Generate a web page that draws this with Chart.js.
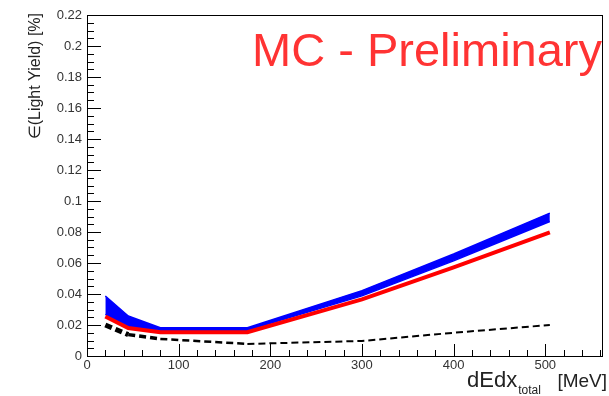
<!DOCTYPE html>
<html>
<head>
<meta charset="utf-8">
<script src="https://cdn.jsdelivr.net/npm/chart.js@4/dist/chart.umd.min.js"></script>
<style>
  html, body { margin: 0; padding: 0; background: #fff; }
  #wrap { width: 609px; height: 396px; }
</style>
</head>
<body>
<div id="wrap"><canvas id="c" width="609" height="396"></canvas></div>
<script>
// dEdx bins [MeV]
const xVals = [20, 45, 80, 175, 300, 400, 505];

// blue band (upper / lower edge)
const blueUpper = [0.0387, 0.0258, 0.0183, 0.0183, 0.0422, 0.0658, 0.0922];
const blueLower = [0.0268, 0.0190, 0.0166, 0.0166, 0.0388, 0.0614, 0.0868];

// red line
const redLine = [0.0255, 0.0180, 0.0153, 0.0153, 0.0365, 0.0572, 0.0797];

// black dashed line
const blackLine = [0.0200, 0.0138, 0.0110, 0.0078, 0.0097, 0.0150, 0.0200];

// tick labels
const xTicks = [0, 100, 200, 300, 400, 500];
const yTicks = [0, 0.02, 0.04, 0.06, 0.08, 0.1, 0.12, 0.14, 0.16, 0.18, 0.2, 0.22];

const X_MAX = 563;
const Y_MAX = 0.22;
const FONT = "'Liberation Sans', Arial, sans-serif";

const pts = (ys) => xVals.map((x, i) => ({ x: x, y: ys[i] }));

// ROOT風の内向き目盛り + 枠 + テキスト
const rootFrame = {
    id: 'rootFrame',
    afterDraw(chart) {
        const { ctx, chartArea: a, scales } = chart;
        const xs = scales.x, ys = scales.y;
        ctx.save();
        ctx.strokeStyle = '#000';
        ctx.lineWidth = 1;

        // frame
        ctx.strokeRect(a.left + 0.5, a.top + 0.5, a.right - a.left - 1, a.bottom - a.top);

        // x ticks (major 100, minor 20)
        ctx.beginPath();
        for (let v = 0; v <= X_MAX; v += 20) {
            const px = Math.round(xs.getPixelForValue(v)) + 0.5;
            const len = (v % 100 === 0) ? 12 : 6;
            ctx.moveTo(px, a.bottom);
            ctx.lineTo(px, a.bottom - len);
        }
        // y ticks (major 0.02, minor 0.005)
        for (let i = 0; i <= 44; i++) {
            const v = i * 0.005;
            const py = Math.round(ys.getPixelForValue(v)) + 0.5;
            const len = (i % 4 === 0) ? 14 : 7;
            ctx.moveTo(a.left, py);
            ctx.lineTo(a.left + len, py);
        }
        ctx.stroke();

        // MC - Preliminary
        ctx.fillStyle = '#ff3333';
        ctx.font = '47px ' + FONT;
        ctx.textAlign = 'right';
        ctx.textBaseline = 'alphabetic';
        ctx.fillText('MC - Preliminary', 602, 66);

        // y title
        ctx.fillStyle = '#222';
        ctx.save();
        ctx.translate(40, 13);
        ctx.rotate(-Math.PI / 2);
        ctx.font = '16px ' + FONT;
        ctx.textAlign = 'right';
        ctx.fillText('\u2208(Light Yield) [%]', 0, 0);
        ctx.restore();

        // x title with subscript
        ctx.textAlign = 'left';
        ctx.font = '22px ' + FONT;
        const w1 = ctx.measureText('dEdx').width;
        ctx.fillText('dEdx', 467, 387);
        ctx.font = '12px ' + FONT;
        ctx.fillText('total', 467 + w1 + 1, 394);
        ctx.font = '19px ' + FONT;
        ctx.textAlign = 'right';
        ctx.fillText('[MeV]', 607, 387);

        ctx.restore();
    }
};

const blackWidths = [5, 3.5, 2.5, 2, 2, 2];

new Chart(document.getElementById('c'), {
    type: 'line',
    data: {
        datasets: [
            {
                label: 'red',
                data: pts(redLine),
                borderColor: '#ff0000',
                borderWidth: 4,
                pointRadius: 0,
                fill: false
            },
            {
                label: 'black',
                data: pts(blackLine),
                borderColor: '#000',
                borderWidth: 2,
                borderDash: [7, 4],
                segment: {
                    borderWidth: (c) => blackWidths[c.p0DataIndex]
                },
                pointRadius: 0,
                fill: false
            },
            {
                label: 'blueUp',
                data: pts(blueUpper),
                borderColor: '#0000ff',
                backgroundColor: '#0000ff',
                borderWidth: 1.5,
                pointRadius: 0,
                fill: '+1'
            },
            {
                label: 'blueLow',
                data: pts(blueLower),
                borderColor: '#0000ff',
                borderWidth: 1.5,
                pointRadius: 0,
                fill: false
            }
        ]
    },
    options: {
        responsive: false,
        animation: false,
        events: [],
        layout: { padding: { top: 15, right: 6, left: 0, bottom: 0 } },
        plugins: {
            legend: { display: false },
            tooltip: { enabled: false }
        },
        elements: { line: { tension: 0 } },
        scales: {
            x: {
                type: 'linear',
                min: 0,
                max: X_MAX,
                grid: { display: false, drawTicks: false },
                border: { display: false },
                afterBuildTicks: (s) => { s.ticks = xTicks.map(v => ({ value: v })); },
                afterFit: (s) => { s.height = 40; },
                ticks: {
                    color: '#333',
                    padding: 2,
                    maxRotation: 0,
                    font: { size: 13, family: FONT },
                    callback: (v) => String(v)
                }
            },
            y: {
                type: 'linear',
                min: 0,
                max: Y_MAX,
                grid: { display: false, drawTicks: false },
                border: { display: false },
                afterBuildTicks: (s) => { s.ticks = yTicks.map(v => ({ value: v })); },
                afterFit: (s) => { s.width = 87; },
                ticks: {
                    color: '#333',
                    padding: 5,
                    font: { size: 13, family: FONT },
                    callback: (v) => String(+v.toFixed(2))
                }
            }
        }
    },
    plugins: [rootFrame]
});
</script>
</body>
</html>
